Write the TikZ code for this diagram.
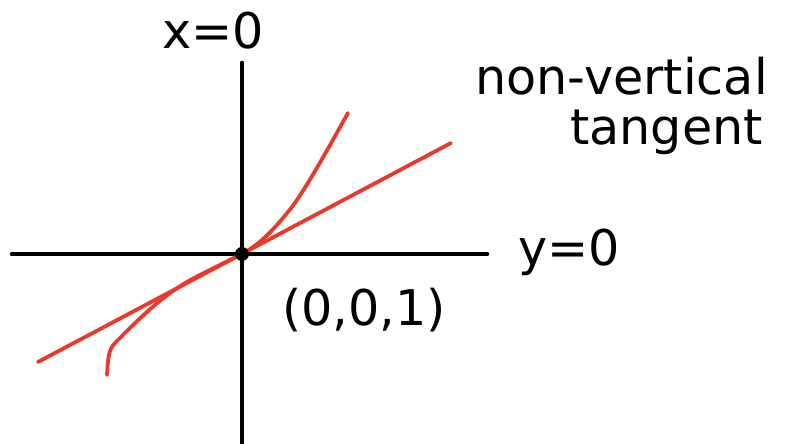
\documentclass[tikz,border=0pt]{standalone}
\usepackage{fontspec}
\setmainfont{DejaVu Sans}
\usepackage{xcolor}
\definecolor{penred}{HTML}{E8392A}

\begin{document}
\begin{tikzpicture}[x=0.025cm,y=-0.025cm,
  axis/.style={line width=3.3pt,line cap=round},
  curve/.style={penred,line width=2.7pt,line cap=round},
  lbl/.style={font=\fontsize{35}{40}\selectfont,inner sep=0pt,anchor=base west}]
  \useasboundingbox (0,0) rectangle (791,444);
  % axes
  \coordinate (o) at (242,254);
  \coordinate (hl) at (12,254); \coordinate (hr) at (487,254);
  \coordinate (vt) at (242,63); \coordinate (vb) at (242,444);
  \draw[axis] (hl) -- (hr);
  \draw[axis] (vt) -- (vb);
  % tangent line and curve
  \coordinate (ta) at (38,362); \coordinate (tb) at (451,143);
  \draw[curve] (ta) -- (tb);
  \coordinate (ca) at (107,375); \coordinate (cb) at (348,113);
  \draw[curve] (ca) .. controls (108,360) and (108,350) .. (115,343)
    .. controls (140,318) and (165,292) .. (200,275)
    .. controls (220,265) and (232,259) .. (o)
    .. controls (262,243) and (275,228) .. (292,207)
    .. controls (310,182) and (330,145) .. (cb);
  \fill (o) circle (7);
  % labels
  \node[lbl] (xeq) at (162,49) {x=0};
  \node[lbl] (yeq) at (518,266) {y=0};
  \node[lbl] (pt) at (282,326) {(0,0,1)};
  \node[lbl] (nv) at (475,95) {non-vertical};
  \node[lbl] (tg) at (570,145) {tangent};
\end{tikzpicture}
\end{document}
